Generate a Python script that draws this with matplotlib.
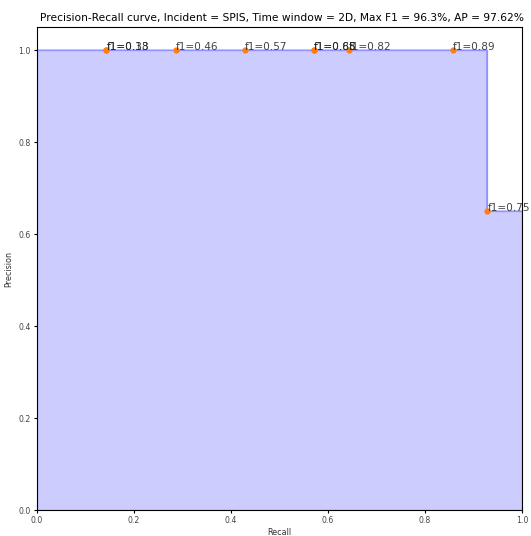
import matplotlib
matplotlib.use("Agg")
import matplotlib.pyplot as plt

# curve (step, post)
curve_recall = [0.0, 0.1429, 0.2857, 0.4286, 0.5714, 0.6429, 0.8571, 0.9286, 1.0]
curve_precision = [1.0, 1.0, 1.0, 1.0, 1.0, 1.0, 1.0, 0.65, 0.65]

# annotated points
pt_recall = [0.1429, 0.1429, 0.2857, 0.4286, 0.5714, 0.5714, 0.6429, 0.8571, 0.9286]
pt_precision = [1.0, 1.0, 1.0, 1.0, 1.0, 1.0, 1.0, 1.0, 0.65]
pt_labels = ["f1=0.18", "f1=0.33", "f1=0.46", "f1=0.57", "f1=0.65", "f1=0.88",
             "f1=0.82", "f1=0.89", "f1=0.75"]

title = "Precision-Recall curve, Incident = SPIS, Time window = 2D, Max F1 = 96.3%, AP = 97.62%"

fig = plt.figure(figsize=(5.31, 5.36), dpi=100)
ax = fig.add_axes([0.0697, 0.0485, 0.9133, 0.9011])

ax.step(curve_recall, curve_precision, where='post', color='b', alpha=0.2)
ax.fill_between(curve_recall, curve_precision, step='post', alpha=0.2, color='b')
ax.scatter(pt_recall, pt_precision, color='C1', s=12, zorder=3)
for r, p, lab in zip(pt_recall, pt_precision, pt_labels):
    ax.text(r, p, lab, fontsize=7.6, ha='left', va='baseline', color='#222222', alpha=0.85)

ax.set_xlim(0.0, 1.0)
ax.set_ylim(0.0, 1.05)
ax.set_xlabel("Recall", fontsize=5.8, labelpad=2, color='#333333')
ax.set_ylabel("Precision", fontsize=5.8, labelpad=4, color='#333333')
ax.set_title(title, fontsize=7.7, pad=4, x=0.505)
ax.tick_params(labelsize=5.6, length=2.5, pad=2, labelcolor='#444444')

fig.savefig("out.png", dpi=100)
